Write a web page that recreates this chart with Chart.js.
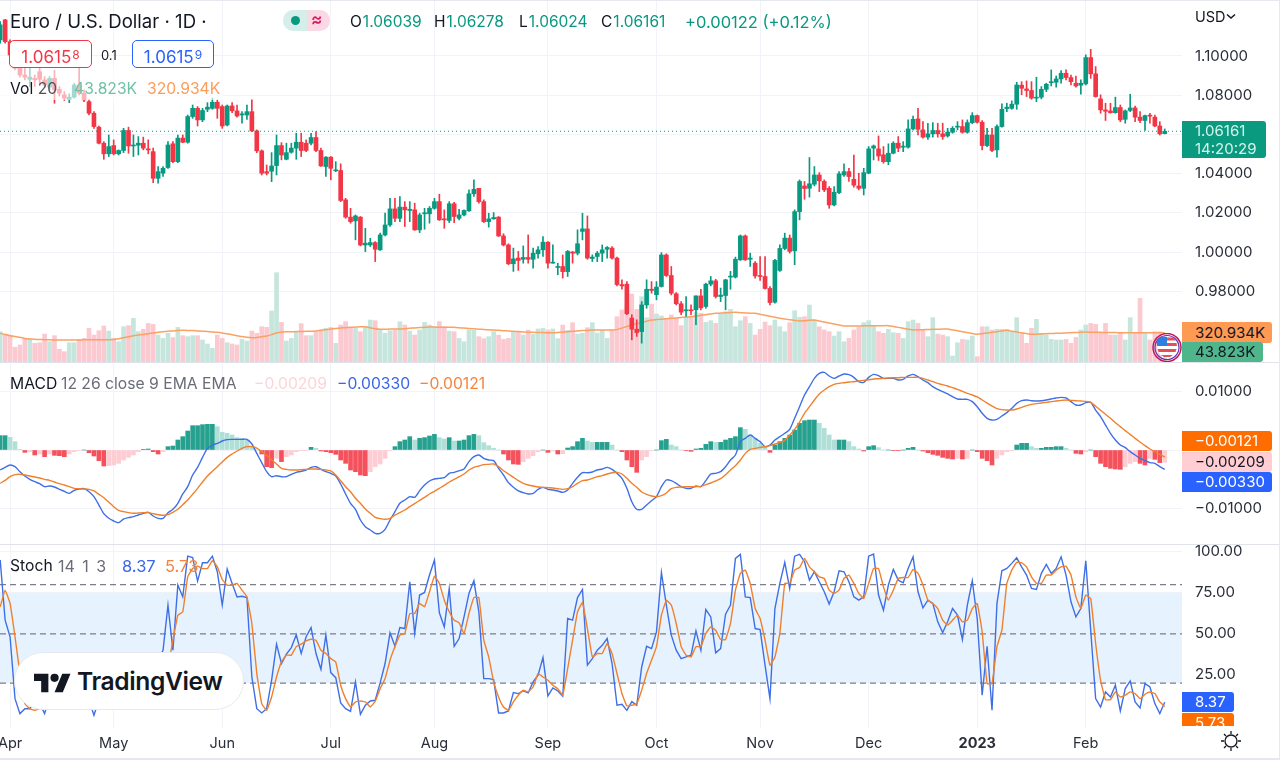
<!DOCTYPE html>
<html><head><meta charset="utf-8"><title>Euro / U.S. Dollar</title>
<script src="https://cdn.jsdelivr.net/npm/chart.js@4/dist/chart.umd.min.js"></script>
<style>
html,body{margin:0;padding:0;background:#fff;width:1280px;height:760px;overflow:hidden}
body{position:relative;font-family:Inter,"Noto Sans",sans-serif;color:#131722}
canvas{position:absolute;left:0;top:0}
.t{position:absolute;white-space:nowrap;line-height:1}
.tag{position:absolute;left:1182px;border-radius:0 3px 3px 0;font-size:15px;padding-left:13px;box-sizing:border-box;white-space:nowrap}
.g{color:#089981}.sup{font-size:12px;vertical-align:4px;margin-left:1px}
.box{position:absolute;top:40px;height:28px;background:#fff;border-radius:5px;box-sizing:border-box;font-size:17px;text-align:center;line-height:27px}
</style></head><body>
<canvas id="c" width="1280" height="760"></canvas>

<div style="position:absolute;left:0;top:68px;width:225px;height:32px;background:rgba(255,255,255,.62)"></div>
<div class="t" style="left:10px;top:12px;font-size:18.6px;color:#131722">Euro / U.S. Dollar · 1D ·</div>
<div style="position:absolute;left:283px;top:10px;width:24px;height:21px;background:#d5eeea;border-radius:10px 0 0 10px"></div>
<div style="position:absolute;left:307px;top:10px;width:23px;height:21px;background:#fbd9e4;border-radius:0 10px 10px 0"></div>
<div style="position:absolute;left:291px;top:16px;width:9px;height:9px;border-radius:50%;background:#089981"></div>
<div class="t" style="left:311px;top:11px;font-size:17px;font-weight:600;color:#d81b60">≈</div>
<div class="t" style="left:350px;top:14px;font-size:15.5px">O<span class="g" style="margin-left:1px">1.06039</span></div>
<div class="t" style="left:434px;top:14px;font-size:15.5px">H<span class="g" style="margin-left:1px">1.06278</span></div>
<div class="t" style="left:519px;top:14px;font-size:15.5px">L<span class="g" style="margin-left:1px">1.06024</span></div>
<div class="t" style="left:601px;top:14px;font-size:15.5px">C<span class="g" style="margin-left:1px">1.06161</span></div>
<div class="t g" style="left:685px;top:14px;font-size:16.5px">+0.00122 (+0.12%)</div>

<div class="box" style="left:9px;width:83px;border:1px solid #f23645;color:#f23645">1.0615<span class="sup">8</span></div>
<div class="t" style="left:101px;top:49px;font-size:13px;color:#131722">0.1</div>
<div class="box" style="left:132px;width:82px;border:1px solid #2962ff;color:#2962ff">1.0615<span class="sup">9</span></div>
<div class="t" style="left:10px;top:81px;font-size:15.7px;color:#131722">Vol <span style="color:#50535e">20</span></div>
<div class="t" style="left:74px;top:81px;font-size:15.7px;color:#6fc2a6">43.823K</div>
<div class="t" style="left:147px;top:81px;font-size:15.7px;color:#fb9d5b">320.934K</div>

<div class="t" style="left:1195px;top:10px;font-size:14.5px">USD</div>
<svg style="position:absolute;left:1226px;top:13px" width="10" height="7"><path d="M1 1.5l4 3.5 4-3.5" fill="none" stroke="#131722" stroke-width="1.5"/></svg>
<div class="tag" style="top:121px;height:37px;width:84px;background:#0a9a80;color:#d9f3ec;line-height:18px;padding-top:1px">1.06161<br>14:20:29</div>

<div class="tag" style="top:322px;height:21px;width:90px;background:#ff9a55;line-height:21px">320.934K</div>
<div class="tag" style="top:342px;height:20px;width:81px;background:#4fb68c;line-height:20px">43.823K</div>
<svg style="position:absolute;left:1150px;top:333px" width="33" height="29" viewBox="0 0 33 29">
<circle cx="17" cy="14.5" r="14" fill="none" stroke="#c2185b" stroke-width="1.5"/>
<circle cx="17" cy="14.5" r="12" fill="none" stroke="#5e35b1" stroke-width="1.2"/>
<circle cx="17" cy="14.5" r="10" fill="#fff"/>
<path d="M8 6a10 10 0 0 1 9-2v9H7a10 10 0 0 1 1-7z" fill="#2f7fe0"/>
<path d="M17 4.5h6l3 3H17zM17 10h9.5l.5 3H17zM7.5 16h19l-1 3h-17zM11 22h12l-3 2h-6z" fill="#e4505a"/>
</svg>

<div class="t" style="left:10px;top:376px;font-size:15.7px">MACD</div>
<div class="t" style="left:61px;top:376px;font-size:15.7px;color:#6a6d78">12 26 close 9 EMA EMA</div>
<div class="t" style="left:254px;top:376px;font-size:15.7px;color:#fcd5da">−0.00209</div>
<div class="t" style="left:337px;top:376px;font-size:15.7px;color:#3a66e8">−0.00330</div>
<div class="t" style="left:419px;top:376px;font-size:15.7px;color:#f5843c">−0.00121</div>
<div class="tag" style="top:431px;height:20px;width:90px;background:#ff6d00;color:#fff;line-height:20px">−0.00121</div>
<div class="tag" style="top:452px;height:20px;width:90px;background:#ffcdd2;line-height:20px">−0.00209</div>
<div class="tag" style="top:472px;height:20px;width:90px;background:#2962ff;color:#fff;line-height:20px">−0.00330</div>

<div class="t" style="left:10px;top:558px;font-size:15.7px">Stoch</div>
<div class="t" style="left:58px;top:558px;font-size:16px;word-spacing:3px;color:#6a6d78">14 1 3</div>
<div class="t" style="left:122px;top:558px;font-size:16.5px;color:#3a66e8">8.37</div>
<div class="t" style="left:165px;top:558px;font-size:16.5px;color:#f5843c">5.73</div>
<div class="tag" style="top:692px;height:20px;width:52px;background:#2962ff;color:#fff;line-height:20px">8.37</div>
<div style="position:absolute;left:1182px;top:713px;width:52px;height:13px;overflow:hidden"><div class="tag" style="left:0;top:0;height:20px;width:52px;background:#ff6d00;color:#fff;line-height:20px">5.73</div></div>

<div style="position:absolute;left:14px;top:652px;width:230px;height:58px;background:#fff;border:1.5px solid #e8e9ee;border-radius:29px;box-sizing:border-box"></div>
<svg style="position:absolute;left:34px;top:671px" width="37" height="24" viewBox="0 2 36 22"><path d="M14 22H7V11H0V4h14v18zM28 22h-8l7.5-18h8L28 22z" fill="#131722"/><circle cx="20" cy="8" r="4" fill="#131722"/></svg>
<div class="t" style="left:77px;top:669px;font-size:24.6px;font-weight:600;letter-spacing:-.4px;color:#131722">TradingView</div>

<svg style="position:absolute;left:1220px;top:730px" width="22" height="22" viewBox="0 0 22 22" fill="none" stroke="#131722" stroke-width="1.3"><circle cx="11" cy="11" r="6"/><path d="M11 1v3M11 18v3M1 11h3M18 11h3M4 4l2 2M16 16l2 2M4 18l2-2M16 6l2-2"/></svg>
<div style="position:absolute;inset:0;border:1.5px solid #e6e8ef;border-left:none;border-bottom-width:2px;box-sizing:border-box;pointer-events:none"></div>

<script>
const monthIdx=[2,23,45,67,88,111,133,154,176,198,220];
const monthLabels=['Apr','May','Jun','Jul','Aug','Sep','Oct','Nov','Dec','2023','Feb'];
const priceTicks=[0.98,1.00,1.02,1.04,1.06,1.08,1.10];
const macdTicks=[-0.01,0,0.01];
const stochTicks=[25,50,75,100];
const lastPrice=1.06161;

const opens=[1.1082,1.1184,1.1073,1.1005,1.0937,1.0903,1.0881,1.0886,1.0920,1.0878,
1.0841,1.0886,1.0830,1.0802,1.0779,1.0790,1.0852,1.0810,1.0767,1.0708,
1.0637,1.0555,1.0501,1.0543,1.0501,1.0518,1.0620,1.0541,1.0545,1.0555,
1.0526,1.0512,1.0376,1.0402,1.0431,1.0552,1.0461,1.0581,1.0560,1.0691,
1.0733,1.0674,1.0728,1.0733,1.0764,1.0742,1.0648,1.0745,1.0720,1.0699,
1.0699,1.0716,1.0618,1.0516,1.0410,1.0412,1.0441,1.0543,1.0473,1.0509,
1.0530,1.0560,1.0555,1.0555,1.0584,1.0518,1.0436,1.0484,1.0414,1.0416,
1.0266,1.0178,1.0159,1.0178,1.0036,1.0036,1.0048,1.0011,1.0087,1.0138,
1.0220,1.0172,1.0229,1.0212,1.0215,1.0113,1.0195,1.0195,1.0223,1.0257,
1.0167,1.0161,1.0246,1.0172,1.0189,1.0210,1.0297,1.0325,1.0257,1.0155,
1.0169,1.0178,1.0082,1.0036,0.9940,0.9969,0.9963,0.9972,0.9963,0.9991,
1.0011,1.0050,0.9943,0.9921,0.9926,0.9900,1.0000,0.9994,1.0105,1.0118,
0.9967,0.9977,0.9994,1.0014,1.0020,0.9969,0.9834,0.9836,0.9663,0.9606,
0.9594,0.9730,0.9810,0.9782,0.9824,0.9985,0.9880,0.9787,0.9736,0.9700,
0.9705,0.9705,0.9776,0.9722,0.9836,0.9853,0.9773,0.9778,0.9872,0.9872,
0.9960,1.0082,0.9963,0.9943,0.9878,0.9875,0.9814,0.9744,0.9906,1.0018,
1.0071,1.0006,1.0206,1.0337,1.0325,1.0346,1.0393,1.0360,1.0325,1.0240,
1.0303,1.0393,1.0410,1.0371,1.0337,1.0325,1.0402,1.0530,1.0526,1.0496,
1.0461,1.0504,1.0555,1.0535,1.0535,1.0628,1.0679,1.0623,1.0586,1.0603,
1.0620,1.0603,1.0592,1.0611,1.0637,1.0640,1.0611,1.0660,1.0696,1.0662,
1.0543,1.0597,1.0521,1.0640,1.0732,1.0733,1.0754,1.0851,1.0832,1.0824,
1.0785,1.0790,1.0830,1.0864,1.0866,1.0883,1.0912,1.0890,1.0861,1.0851,
1.0858,1.0992,1.0909,1.0781,1.0725,1.0720,1.0711,1.0737,1.0677,1.0722,
1.0735,1.0688,1.0671,1.0696,1.0688,1.0643,1.06039];

const closes=[1.1159,1.1073,1.1005,1.0937,1.0903,1.0892,1.0892,1.0878,1.0881,1.0852,
1.0886,1.0827,1.0810,1.0785,1.0790,1.0852,1.0810,1.0776,1.0708,1.0640,
1.0555,1.0501,1.0538,1.0501,1.0518,1.0620,1.0541,1.0546,1.0555,1.0530,
1.0521,1.0376,1.0410,1.0427,1.0546,1.0461,1.0581,1.0560,1.0691,1.0733,
1.0674,1.0722,1.0739,1.0764,1.0733,1.0643,1.0745,1.0720,1.0694,1.0705,
1.0716,1.0618,1.0516,1.0402,1.0402,1.0439,1.0543,1.0495,1.0507,1.0530,
1.0560,1.0518,1.0518,1.0584,1.0518,1.0439,1.0484,1.0427,1.0419,1.0263,
1.0178,1.0155,1.0184,1.0036,1.0045,1.0048,1.0014,1.0087,1.0138,1.0220,
1.0172,1.0229,1.0215,1.0218,1.0113,1.0189,1.0198,1.0223,1.0257,1.0164,
1.0164,1.0246,1.0181,1.0189,1.0212,1.0297,1.0320,1.0257,1.0155,1.0169,
1.0176,1.0082,1.0036,0.9940,0.9965,0.9957,0.9972,0.9963,0.9994,1.0011,
1.0050,0.9943,0.9948,0.9926,0.9900,1.0003,0.9994,1.0042,1.0118,0.9969,
0.9974,0.9994,1.0011,1.0023,0.9969,0.9834,0.9827,0.9685,0.9606,0.9589,
0.9730,0.9810,0.9804,0.9821,0.9985,0.9880,0.9790,0.9736,0.9693,0.9705,
0.9700,0.9776,0.9715,0.9836,0.9853,0.9773,0.9780,0.9858,0.9875,0.9963,
1.0082,0.9960,0.9969,0.9878,0.9875,0.9814,0.9742,0.9957,1.0018,1.0071,
1.0003,1.0206,1.0360,1.0324,1.0348,1.0393,1.0363,1.0317,1.0240,1.0305,
1.0399,1.0410,1.0385,1.0341,1.0325,1.0405,1.0526,1.0541,1.0490,1.0461,
1.0504,1.0555,1.0530,1.0538,1.0628,1.0677,1.0626,1.0586,1.0603,1.0620,
1.0603,1.0589,1.0611,1.0631,1.0640,1.0611,1.0660,1.0696,1.0662,1.0543,
1.0597,1.0518,1.0640,1.0728,1.0739,1.0754,1.0852,1.0835,1.0824,1.0785,
1.0790,1.0830,1.0856,1.0869,1.0883,1.0912,1.0890,1.0869,1.0847,1.0861,
1.0992,1.0909,1.0793,1.0725,1.0718,1.0711,1.0737,1.0674,1.0720,1.0735,
1.0688,1.0671,1.0696,1.0693,1.0643,1.0603,1.06161];

const highs=[1.1175,1.1187,1.1082,1.1014,1.0963,1.0937,1.0937,1.0903,1.0937,1.0895,
1.0895,1.0926,1.0844,1.0819,1.0807,1.0861,1.0937,1.0827,1.0776,1.0716,
1.0643,1.0563,1.0597,1.0572,1.0521,1.0631,1.0637,1.0597,1.0589,1.0586,
1.0572,1.0530,1.0436,1.0436,1.0563,1.0563,1.0597,1.0597,1.0699,1.0750,
1.0742,1.0733,1.0762,1.0785,1.0776,1.0750,1.0750,1.0762,1.0750,1.0716,
1.0750,1.0776,1.0623,1.0521,1.0444,1.0507,1.0597,1.0558,1.0555,1.0555,
1.0606,1.0606,1.0572,1.0606,1.0614,1.0530,1.0487,1.0487,1.0461,1.0450,
1.0274,1.0223,1.0189,1.0181,1.0121,1.0070,1.0053,1.0096,1.0198,1.0274,
1.0274,1.0283,1.0257,1.0257,1.0249,1.0198,1.0223,1.0232,1.0274,1.0295,
1.0215,1.0257,1.0254,1.0218,1.0215,1.0317,1.0368,1.0325,1.0266,1.0198,
1.0201,1.0181,1.0093,1.0042,1.0020,1.0003,1.0031,1.0087,1.0020,1.0028,
1.0079,1.0053,1.0036,0.9943,0.9985,1.0008,1.0003,1.0113,1.0198,1.0184,
0.9985,1.0003,1.0036,1.0028,1.0028,0.9974,0.9858,0.9849,0.9680,0.9654,
0.9747,0.9858,0.9849,0.9849,0.9997,0.9991,0.9926,0.9793,0.9747,0.9773,
0.9730,0.9776,0.9810,0.9841,0.9875,0.9861,0.9816,0.9861,0.9901,0.9974,
1.0087,1.0087,0.9994,0.9951,0.9977,0.9977,0.9824,0.9963,1.0036,1.0096,
1.0087,1.0215,1.0368,1.0360,1.0482,1.0436,1.0405,1.0368,1.0334,1.0334,
1.0410,1.0450,1.0427,1.0495,1.0402,1.0427,1.0538,1.0546,1.0592,1.0538,
1.0552,1.0563,1.0589,1.0563,1.0674,1.0694,1.0733,1.0665,1.0657,1.0660,
1.0657,1.0657,1.0631,1.0640,1.0665,1.0674,1.0674,1.0711,1.0699,1.0671,
1.0631,1.0631,1.0649,1.0756,1.0759,1.0771,1.0866,1.0869,1.0873,1.0869,
1.0892,1.0844,1.0861,1.0929,1.0898,1.0926,1.0929,1.0903,1.0898,1.0878,
1.1006,1.1034,1.0946,1.0802,1.0759,1.0759,1.0790,1.0750,1.0725,1.0805,
1.0745,1.0716,1.0699,1.0708,1.0699,1.0665,1.06278];

const lows=[1.1065,1.1065,1.0997,1.0929,1.0892,1.0878,1.0844,1.0844,1.0861,1.0841,
1.0827,1.0759,1.0796,1.0773,1.0762,1.0785,1.0802,1.0767,1.0699,1.0631,
1.0552,1.0473,1.0487,1.0495,1.0495,1.0507,1.0504,1.0487,1.0495,1.0521,
1.0501,1.0354,1.0351,1.0385,1.0427,1.0456,1.0456,1.0558,1.0555,1.0682,
1.0643,1.0665,1.0716,1.0728,1.0682,1.0631,1.0643,1.0711,1.0688,1.0657,
1.0677,1.0614,1.0507,1.0393,1.0393,1.0359,1.0393,1.0470,1.0470,1.0504,
1.0473,1.0487,1.0512,1.0546,1.0512,1.0436,1.0385,1.0368,1.0410,1.0257,
1.0172,1.0147,1.0062,1.0031,1.0002,1.0028,0.9951,1.0008,1.0082,1.0130,
1.0155,1.0155,1.0130,1.0155,1.0110,1.0099,1.0116,1.0147,1.0218,1.0161,
1.0121,1.0150,1.0150,1.0164,1.0184,1.0207,1.0283,1.0249,1.0150,1.0127,
1.0167,1.0079,1.0031,0.9935,0.9901,0.9906,0.9943,0.9943,0.9917,0.9969,
0.9977,0.9917,0.9943,0.9884,0.9867,0.9875,0.9943,0.9985,1.0062,0.9963,
0.9951,0.9951,0.9951,0.9969,0.9963,0.9827,0.9810,0.9680,0.9552,0.9569,
0.9535,0.9713,0.9790,0.9756,0.9821,0.9875,0.9781,0.9730,0.9680,0.9671,
0.9680,0.9629,0.9705,0.9713,0.9827,0.9765,0.9747,0.9705,0.9810,0.9867,
0.9957,0.9957,0.9926,0.9867,0.9855,0.9810,0.9730,0.9739,0.9901,1.0011,
0.9994,0.9935,1.0164,1.0269,1.0280,1.0337,1.0308,1.0308,1.0223,1.0235,
1.0297,1.0385,1.0360,1.0331,1.0317,1.0291,1.0399,1.0470,1.0467,1.0453,
1.0445,1.0501,1.0512,1.0512,1.0530,1.0623,1.0597,1.0581,1.0575,1.0586,
1.0586,1.0575,1.0586,1.0606,1.0623,1.0606,1.0606,1.0654,1.0657,1.0521,
1.0538,1.0512,1.0484,1.0637,1.0716,1.0728,1.0728,1.0802,1.0793,1.0779,
1.0767,1.0781,1.0818,1.0847,1.0841,1.0861,1.0878,1.0852,1.0841,1.0805,
1.0852,1.0886,1.0790,1.0708,1.0671,1.0708,1.0708,1.0665,1.0657,1.0716,
1.0665,1.0660,1.0620,1.0657,1.0640,1.0597,1.06024];

const volumes=[332,306,295,159,185,258,251,203,210,306,
221,288,137,111,210,210,247,258,369,295,
343,395,339,258,221,387,399,480,332,358,
424,413,295,258,314,266,380,288,277,288,
288,240,196,148,295,258,210,196,185,247,
229,339,314,387,380,561,985,435,229,258,
325,421,288,288,332,351,369,380,203,406,
443,369,369,332,387,461,454,351,314,343,
351,443,406,339,295,351,435,406,387,443,
387,339,332,258,221,351,347,277,255,277,
332,295,247,258,332,332,295,351,303,362,
369,351,362,255,406,347,432,306,314,376,
432,317,347,258,351,498,572,609,749,579,
720,487,638,528,506,480,517,480,399,491,
498,546,535,435,454,424,535,554,579,387,
454,498,424,295,358,439,399,461,387,332,
432,565,491,498,627,461,387,351,332,284,
332,221,258,351,380,432,454,395,332,314,
358,321,314,258,443,461,424,351,277,487,
306,295,277,63,210,247,240,284,55,387,
387,351,358,358,358,332,487,314,203,369,
469,314,295,247,240,240,247,203,269,351,
406,424,413,314,424,295,295,314,240,487,
314,701,314,240,332,332,44];

const volumeMA=[314,300,288,279,270,258,251,248,246,244,
242,241,240,240,240,241,241,242,242,243,
243,244,244,246,255,266,277,288,295,302,
310,318,325,331,336,341,345,347,346,344,
341,338,334,330,325,318,309,298,288,278,
270,266,268,275,284,300,318,328,331,332,
333,334,336,338,340,347,354,361,367,372,
377,381,384,386,387,375,364,358,360,361,
362,362,366,370,374,378,381,384,383,382,
381,380,380,376,372,368,364,360,356,353,
351,347,343,340,336,333,330,327,325,323,
322,321,321,324,328,332,336,340,344,348,
351,351,351,351,351,355,372,390,406,420,
434,448,461,466,471,476,480,484,489,494,
498,505,513,520,528,535,538,541,544,546,
543,540,537,535,524,513,502,491,480,472,
465,457,450,454,458,461,450,439,428,417,
406,395,395,396,396,397,397,398,398,399,
399,390,380,370,360,351,353,355,356,358,
360,361,362,352,342,332,322,312,303,310,
318,325,332,340,347,338,329,320,311,303,
305,307,310,312,314,316,319,321,323,326,
328,327,326,325,324,323,322,321,321,321,
321,321,321,321,321,321,320.934];

const macdLine=[-.0034,-.00295,-.00255,-.00284,-.00369,-.00442,-.00499,-.00539,-.00573,-.00624,
-.00612,-.00629,-.00669,-.00703,-.00737,-.00686,-.00663,-.00658,-.00709,-.00794,
-.00936,-.01083,-.01162,-.01208,-.01236,-.01174,-.01151,-.01134,-.01106,-.01077,
-.0106,-.01123,-.01162,-.01162,-.01066,-.01009,-.00907,-.00748,-.00624,-.00425,
-.00295,-.00125,.00028,.00085,.00113,.00153,.00176,.00181,.00181,.00181,
.00181,.00102,-.00057,-.00215,-.00369,-.00454,-.00437,-.00454,-.00454,-.00414,
-.0038,-.00363,-.0034,-.00295,-.00284,-.00329,-.00369,-.00397,-.00442,-.00578,
-.00748,-.00907,-.01009,-.01191,-.01304,-.01361,-.01418,-.01418,-.01349,-.01191,
-.01049,-.00907,-.00851,-.00794,-.00805,-.00692,-.00595,-.00527,-.00493,-.00482,
-.00471,-.00397,-.0038,-.00352,-.00323,-.00198,-.00113,-.00085,-.00142,-.0017,
-.00181,-.00312,-.00425,-.00556,-.00635,-.00697,-.00726,-.00748,-.00737,-.00669,
-.00635,-.00669,-.0068,-.00697,-.0072,-.0068,-.00567,-.00465,-.00386,-.00386,
-.00374,-.0034,-.00323,-.00295,-.00329,-.00397,-.00482,-.00652,-.00879,-.01009,
-.01009,-.00936,-.00862,-.00794,-.00624,-.0051,-.00522,-.00567,-.00624,-.00652,
-.00652,-.00612,-.00624,-.00522,-.00408,-.00397,-.00369,-.00284,-.0017,-.00085,
.00142,.00198,.00255,.00198,.00142,.00057,.00085,.0017,.00227,.00284,
.00352,.00539,.00737,.00936,.01077,.01219,.01304,.01321,.01259,.01219,
.01259,.01293,.01281,.01236,.01162,.01151,.01236,.01287,.01264,.01219,
.01219,.01219,.01191,.01202,.01259,.01287,.01247,.01191,.01145,.01077,
.01032,.00992,.00953,.00907,.00868,.00862,.00862,.00822,.00737,.00624,
.00539,.0051,.00522,.00578,.00635,.00709,.00794,.00839,.00851,.00839,
.00833,.00839,.00851,.00868,.00885,.00896,.00885,.00822,.00765,.00765,
.00805,.00811,.0068,.00567,.00425,.00284,.0017,.00085,.0004,-.00028,
-.00085,-.00142,-.00181,-.00215,-.00227,-.00284,-.0033];

const signalLine=[-.00567,-.00516,-.00454,-.0042,-.00414,-.00425,-.00442,-.00459,-.00476,-.00499,
-.00516,-.00544,-.00573,-.00595,-.00624,-.00652,-.00658,-.00663,-.00669,-.00697,
-.00754,-.00811,-.00885,-.00964,-.01026,-.01049,-.01066,-.01077,-.01072,-.01066,
-.01066,-.01083,-.011,-.01111,-.011,-.0106,-.01009,-.0093,-.00851,-.00754,
-.00652,-.00544,-.00442,-.00363,-.00284,-.00204,-.00125,-.00068,-.00017,.00028,
.00057,.00057,.00034,-.00028,-.00091,-.0017,-.00238,-.00312,-.00329,-.0034,
-.0034,-.00335,-.00329,-.00323,-.00323,-.00329,-.0034,-.00357,-.00425,-.00522,
-.00624,-.00709,-.00822,-.00907,-.01004,-.01077,-.01145,-.01168,-.01179,-.01162,
-.01106,-.01066,-.01021,-.00964,-.00913,-.00856,-.00805,-.00748,-.00703,-.00652,
-.00601,-.00544,-.00499,-.00454,-.00408,-.0034,-.00295,-.00272,-.00249,-.00244,
-.00238,-.00284,-.00352,-.00408,-.00465,-.00522,-.00567,-.00595,-.00612,-.00629,
-.00635,-.00641,-.00646,-.00658,-.00669,-.00658,-.00624,-.00567,-.00522,-.0051,
-.00482,-.00454,-.00437,-.00408,-.00386,-.0038,-.00408,-.00482,-.00567,-.00635,
-.00714,-.00754,-.00782,-.00794,-.00777,-.00731,-.00658,-.00635,-.00629,-.00624,
-.00624,-.00624,-.00618,-.0059,-.00561,-.00527,-.00488,-.0042,-.0034,-.00266,
-.0017,-.00057,.00011,.00028,.00045,.00057,.00074,.00102,.0013,.00164,
.00255,.00352,.00476,.00624,.00737,.00851,.00953,.01021,.01077,.01117,
.01134,.01145,.01157,.01162,.01174,.01185,.01196,.01208,.01213,.01219,
.01225,.0123,.0123,.01236,.01236,.01236,.01236,.01219,.01191,.01162,
.01134,.01111,.01089,.0106,.01032,.00998,.00964,.00936,.00902,.00851,
.00799,.00748,.00703,.00686,.0068,.0068,.00697,.00726,.00754,.00777,
.00788,.00799,.00811,.00822,.00833,.00845,.00851,.00845,.00839,.00833,
.00828,.00811,.00743,.00675,.00607,.00539,.00465,.00397,.00329,.00266,
.00198,.00136,.00074,.00017,-.00028,-.00074,-.00121];

const macdHist=[.00244,.00244,.00215,.00142,.00011,-.0004,-.00028,-.00085,-.00068,-.00113,
-.00068,-.00091,-.00096,-.00113,-.00068,-.00028,-.00006,0,-.00045,-.00102,
-.00181,-.00272,-.00266,-.00255,-.00227,-.0017,-.00125,-.00085,-.00028,.00011,
.00017,-.00028,-.00068,-.00028,.00057,.00068,.0017,.00227,.00323,.00414,
.00414,.00431,.00437,.00437,.00397,.003,.00284,.00255,.0021,.00198,
.0017,.00057,0,-.00068,-.00284,-.003,-.00142,-.00198,-.00113,-.00085,
-.00028,-.00011,-.00006,.00045,.00028,-.00017,-.00028,-.00045,-.00074,-.0017,
-.00227,-.0034,-.00369,-.00425,-.00437,-.00369,-.00284,-.00238,-.00142,-.00006,
.00057,.00142,.0017,.00227,.0017,.00198,.0021,.00238,.00266,.0021,
.00187,.0021,.00153,.00153,.0017,.00244,.00266,.00244,.00125,.00074,
.00028,0,-.00068,-.0017,-.00238,-.00244,-.00198,-.00142,-.00096,-.00028,
0,-.0004,-.00017,-.00068,-.00062,.00034,.00057,.00142,.00198,.00153,
.0013,.0013,.0013,.0013,.00085,0,-.00028,-.0017,-.00284,-.0038,
-.0017,-.00113,-.00006,0,.00159,.00181,.00085,.00057,0,-.00011,
-.00023,.00017,.00028,.00096,.00142,.0013,.0013,.0017,.00198,.00227,
.0038,.00352,.00255,.00198,.00113,.00057,-.0004,.00085,.00142,.00198,
.00255,.0034,.00454,.00499,.0051,.0051,.00454,.00369,.00255,.0017,
.0017,.0017,.00142,.00057,.00017,-.00017,.00057,.00074,.0004,0,
0,-.00006,-.00011,0,.00028,.00045,0,-.00017,-.00045,-.00074,
-.00091,-.00125,-.00142,-.00153,-.00142,-.00153,-.00142,0,-.00028,-.00142,
-.00181,-.00255,-.00142,-.00085,-.00028,-.00006,.00085,.00113,.00113,.00057,
.00028,.00028,.00045,.00045,.00057,.00057,.00028,0,-.00057,-.00068,
-.00028,0,-.00113,-.00227,-.00284,-.00312,-.00323,-.00329,-.00284,-.00227,
-.00198,-.00227,-.00255,-.00142,-.00159,-.00215,-.00209];

const stochK=[94.9,58.3,48.2,10.5,1.4,4.4,4.4,9.5,7.5,1.4,
11.5,17.6,9.5,5.4,7.5,17.6,19.7,11.5,9.5,.4,
9.5,11.5,7.5,5.4,9.5,15.6,19.7,17.6,15.6,21.7,
17.6,25.8,33.9,40,67.5,40,79.7,72.5,97.3,96.5,
82.1,93.3,93.3,97.3,87.8,67.5,89.4,80.7,72.5,72.9,
72.1,23.7,4.4,1.8,4.4,21.7,43.7,31.9,37.6,41.6,
49.4,38,48.2,53.8,38,28.4,49.2,26.4,23.3,7.9,
4.4,2.8,20.7,1,6.5,9.1,9.5,20.1,31.9,50.6,
42.4,53.8,53.2,81.7,50.2,73.6,75.2,85.8,94.9,62.8,
54.2,77.6,42.4,47.1,60.3,74.6,82.3,63.4,22.7,22.7,
22.1,1.8,1.8,3,14.2,13.6,15.2,14,20.7,24.8,
35.5,12.2,17,15.2,12,59.3,58.3,72.1,77,30.9,
34.9,40,43,47.1,31.9,6.5,7.1,3.4,8.7,6.5,
29.8,42.4,41,51.2,87.4,67.5,49.2,40,34.9,35.9,
37,51.8,40,64.8,60.3,38.4,41,62,67.5,95.9,
98.4,72.5,72.1,53.2,52.6,30.9,10.5,65.4,80.7,93.5,
77.6,97.3,98.4,93.9,82.7,87.8,81.7,75.6,68.1,75.6,
88.4,87.8,81.7,72.5,70.5,72.5,97.3,98.6,73.6,64.4,
79.7,89.2,82.7,81.1,89.8,96.9,75.6,65.8,70.5,68.5,
57.3,50.8,57.3,65.4,61.4,46.5,67.5,82.3,59.3,12.6,
42.4,3.4,68.5,88.4,89.8,92.9,96.3,90.8,85.8,77.6,
77,86.8,92.3,86.8,89.8,96.9,85.8,69.5,60.3,65.4,
94.5,52.2,10.5,5.4,14.6,11.5,18.7,3,16.6,21.3,
8.5,4.8,19.7,17.6,7.5,1.4,8.37];

const stochD=[66.4,76.6,68.5,48.2,25.8,7.5,4.4,3.4,4.4,4.4,
5.4,7.5,9.5,11.5,9.5,7.5,11.5,13.6,11.5,7.5,
4.4,5.4,7.5,9.5,13.6,17.6,19.7,20.7,19.7,17.6,
21.7,25.8,27.8,23.7,29.8,46.1,61.3,63.4,84.7,89.8,
91.2,89.8,89.8,94.5,90.8,83.1,79.7,79.7,80.7,76.6,
72.5,56.3,25.8,7.5,3.4,11.5,23.7,32.9,37,37,
42.2,43.7,45.7,46.7,46.1,40,38,34.9,32.9,18.7,
10.5,5.4,8.5,9.1,8.5,5.4,8.9,16.6,22.7,33.9,
42.2,49.2,50.2,62.4,62.4,68.5,66.4,75.6,85.1,80.7,
70.5,63.4,58.3,56.7,50.2,62.4,72.1,72.1,46.1,35.9,
20.7,11.5,5.4,3.4,8.5,12.6,15.6,14.6,17.6,25.8,
23.7,21.7,18.7,16.6,12.6,28.8,46.1,63.4,69.1,53.2,
35.9,38,38,44.1,38,25.8,13.6,6.1,6.5,7.5,
15.6,25.8,33.9,42.2,61.3,70.5,67.5,56.3,42.2,37,
35.9,42.2,42.2,50.2,54.2,52.2,46.5,46.5,56.3,76.6,
86.8,88.8,80.7,65.4,59.3,46.1,30.9,35.9,50.2,80.7,
80.7,88.8,90.4,95.9,90.8,87.8,84.7,83.7,76.6,74.6,
76.6,83.7,85.8,80.7,74.6,71.5,80.7,89.8,89.8,78.6,
70.5,76.6,83.7,84.3,84.3,89.2,86.8,79.7,70.5,68.5,
65.4,58.3,55.3,58.3,61.4,57.3,58.3,65.4,68.5,51.2,
19.7,19.7,42.2,52.2,80.7,88.8,93.5,93.3,90.8,84.7,
80.7,80.7,85.8,85.8,88.8,90.8,91.2,85.8,72.5,65.4,
73.6,71.5,44.1,21.7,9.9,9.9,14.6,11.5,12.6,14.6,
13.6,10.5,13.2,14.6,13.6,8.5,5.73];

const X_MIN=-0.04, X_MAX=239.5;
const up=opens.map((o,i)=>closes[i]>=o);
const xy=a=>a.map((y,x)=>({x,y}));
const flat=v=>[{x:X_MIN,y:v},{x:X_MAX,y:v}];
const noPad=s=>{s.paddingLeft=s.paddingRight=s.paddingTop=s.paddingBottom=0;
  if(s._margins){s._margins.left=s._margins.right=s._margins.top=s._margins.bottom=0}};
const fix=s=>{s.width=98;noPad(s)};
const histColor=macdHist.map((v,i)=>{const p=i?macdHist[i-1]:0;
  return v>=0?(v>=p?'#26a08f':'#afdfd7'):(v<p?'#f5515c':'#fdcdd3');});

const panes={id:'panes',afterDatasetsDraw(c){const g=c.ctx,m=c.scales.macd,s=c.scales.stoch;
  g.save();g.fillStyle='#e0e3eb';
  g.fillRect(0,m.top,c.width,1);g.fillRect(0,s.top,c.width,1);g.restore();}};

const tickFont={family:'Inter',size:15};
const grid={color:'#f1f3f8',drawTicks:false,offset:false};
const yAxis=(stackWeight,min,max,vals,digits,weight)=>({
  type:'linear',position:'right',stack:'panes',stackWeight,weight,min,max,
  afterFit:fix,
  afterBuildTicks:s=>{s.ticks=vals.map(value=>({value}))},
  grid,border:{display:false},
  ticks:{padding:13,color:'#2a2e39',font:tickFont,crossAlign:'near',align:'center',
    callback:v=>v===0?'':(v<0?'−':'')+Math.abs(v).toFixed(digits)}
});

new Chart(document.getElementById('c'),{
  plugins:[panes],
  data:{datasets:[
    {type:'bar',label:'Volume',yAxisID:'vol',order:20,grouped:false,barThickness:4,
     data:xy(volumes),backgroundColor:up.map(u=>u?'#c6e6dd':'#fbc9d0')},
    {type:'line',label:'Volume MA',yAxisID:'vol',order:9,data:xy(volumeMA),
     borderColor:'#f9a264',borderWidth:1.5,pointRadius:0,tension:.2},
    {type:'bar',label:'Wick',yAxisID:'price',order:6,grouped:false,barThickness:1,
     data:lows.map((l,i)=>({x:i,y:[l,highs[i]]})),backgroundColor:up.map(u=>u?'#089981':'#f23645')},
    {type:'bar',label:'Candle',yAxisID:'price',order:5,grouped:false,barThickness:4,minBarLength:1,
     data:opens.map((o,i)=>({x:i,y:[o,closes[i]]})),backgroundColor:up.map(u=>u?'#089981':'#f23645')},
    {type:'line',label:'Last',yAxisID:'price',order:4,data:flat(lastPrice),
     borderColor:'#089981',borderWidth:1,borderDash:[1,3],pointRadius:0},
    {type:'bar',label:'Histogram',yAxisID:'macd',order:8,grouped:false,barThickness:4,
     data:xy(macdHist),backgroundColor:histColor},
    {type:'line',label:'MACD',yAxisID:'macd',order:3,data:xy(macdLine),
     borderColor:'#3f6fe6',borderWidth:1.4,pointRadius:0,tension:.25},
    {type:'line',label:'Signal',yAxisID:'macd',order:2,data:xy(signalLine),
     borderColor:'#f0802c',borderWidth:1.4,pointRadius:0,tension:.25},
    {type:'line',label:'Band',yAxisID:'stoch',order:30,data:flat(75),borderWidth:0,pointRadius:0,
     fill:'+1',backgroundColor:'#e6f2fd'},
    {type:'line',label:'Band low',yAxisID:'stoch',order:31,data:flat(20),borderWidth:0,pointRadius:0},
    {type:'line',label:'80',yAxisID:'stoch',order:15,data:flat(80),borderColor:'#7c7f8a',borderWidth:1.2,borderDash:[6,4],pointRadius:0},
    {type:'line',label:'50',yAxisID:'stoch',order:15,data:flat(50),borderColor:'#7c7f8a',borderWidth:1.2,borderDash:[6,4],pointRadius:0},
    {type:'line',label:'20',yAxisID:'stoch',order:15,data:flat(20),borderColor:'#7c7f8a',borderWidth:1.2,borderDash:[6,4],pointRadius:0},
    {type:'line',label:'%K',yAxisID:'stoch',order:3,data:xy(stochK),borderColor:'#3f6fe6',borderWidth:1.4,pointRadius:0},
    {type:'line',label:'%D',yAxisID:'stoch',order:2,data:xy(stochD),borderColor:'#f0802c',borderWidth:1.4,pointRadius:0,tension:.1}
  ]},
  options:{
    responsive:false,animation:false,devicePixelRatio:1,
    layout:{padding:0,autoPadding:false},
    plugins:{legend:{display:false},tooltip:{enabled:false}},
    events:[],
    scales:{
      x:{type:'linear',position:'bottom',offset:false,min:X_MIN,max:X_MAX,
        afterFit:s=>{s.height=32;noPad(s)},
        afterBuildTicks:s=>{s.ticks=monthIdx.map(value=>({value}))},
        grid,border:{display:false},
        ticks:{autoSkip:false,maxRotation:0,padding:7,color:'#2a2e39',
          font:c=>({family:'Inter',size:14.5,weight:c.tick&&c.tick.value===198?'700':'400'}),
          callback:v=>monthLabels[monthIdx.indexOf(v)]}},
      price:yAxis(362,0.94388,1.12857,priceTicks,5,1),
      macd:yAxis(182,-0.01599,0.01497,macdTicks,5,2),
      stoch:yAxis(184,-7.37,104.7,stochTicks,2,3),
      vol:{type:'linear',display:false,position:'right',min:-4055,max:4004}
    }
  }
});
</script>
</body></html>
